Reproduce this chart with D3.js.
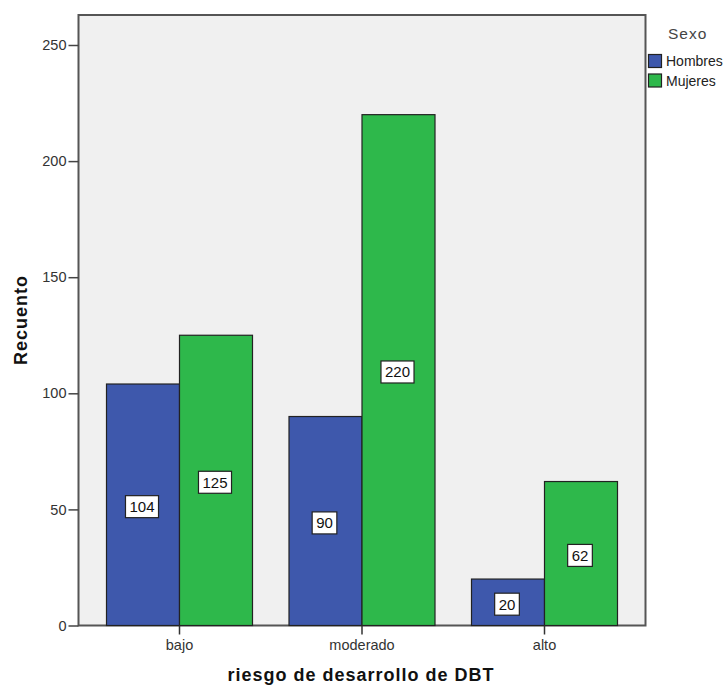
<!DOCTYPE html>
<html>
<head>
<meta charset="utf-8">
<script src="https://cdn.jsdelivr.net/npm/d3@7"></script>
<style>
body { margin: 0; background: #fff; }
text { font-family: "Liberation Sans", Arial, sans-serif; }
</style>
</head>
<body>
<svg id="chart" width="726" height="685"></svg>
<script>
const categories = ["bajo", "moderado", "alto"];
const seriesNames = ["Hombres", "Mujeres"];
const hombres = [104, 90, 20];
const mujeres = [125, 220, 62];
const yTicks = [0, 50, 100, 150, 200, 250];
const colors = ["#3e58ac", "#2eb84b"];

const svg = d3.select("#chart");
const plot = { left: 78.5, right: 645.5, top: 15, bottom: 625.5 };

const y = d3.scaleLinear().domain([0, 250]).range([plot.bottom, 45]);
const x = d3.scaleBand().domain(categories).range([plot.left + 9.75, plot.right - 9.75]).paddingInner(0).paddingOuter(0);
const xs = d3.scaleBand().domain(seriesNames).range([0, x.bandwidth()]).paddingInner(0).paddingOuter(0.25);

// background
svg.append("rect").attr("x", plot.left).attr("y", plot.top)
  .attr("width", plot.right - plot.left).attr("height", plot.bottom - plot.top)
  .attr("fill", "#f0f0f0").attr("stroke", "#555").attr("stroke-width", 2);

const data = [];
categories.forEach((c, i) => {
  data.push({ cat: c, s: "Hombres", v: hombres[i], col: colors[0] });
  data.push({ cat: c, s: "Mujeres", v: mujeres[i], col: colors[1] });
});

svg.append("g").selectAll("rect").data(data).enter().append("rect")
  .attr("x", d => x(d.cat) + xs(d.s))
  .attr("y", d => y(d.v))
  .attr("width", xs.bandwidth())
  .attr("height", d => y(0) - y(d.v))
  .attr("fill", d => d.col)
  .attr("stroke", "#222").attr("stroke-width", 1.2);

// value labels
const lbl = svg.append("g").selectAll("g").data(data).enter().append("g")
  .attr("transform", d => `translate(${x(d.cat) + xs(d.s) + xs.bandwidth() / 2 - 1},${(y(d.v) + y(0)) / 2 + 2})`);
lbl.append("text").attr("text-anchor", "middle").attr("dy", "0.36em")
  .attr("font-size", 15).attr("fill", "#111").text(d => d.v)
  .each(function () {
    const b = this.getBBox();
    d3.select(this.parentNode).insert("rect", "text")
      .attr("x", b.x - 4).attr("y", b.y - 2.5).attr("width", b.width + 8).attr("height", b.height + 5)
      .attr("fill", "#fff").attr("stroke", "#222").attr("stroke-width", 1.2);
  });

// y axis
const yAxis = svg.append("g").attr("transform", `translate(${plot.left},0)`)
  .call(d3.axisLeft(y).tickValues(yTicks).tickSize(10).tickPadding(2).tickSizeOuter(0));
yAxis.select(".domain").remove();
yAxis.selectAll("line").attr("stroke", "#444").attr("stroke-width", 1.5);
yAxis.selectAll("text").attr("font-size", 14.5).attr("fill", "#333").attr("font-family", "Liberation Sans, Arial, sans-serif");

// x axis
const xAxis = svg.append("g").attr("transform", `translate(0,${plot.bottom})`)
  .call(d3.axisBottom(x).tickSize(9).tickSizeOuter(0).tickPadding(5));
xAxis.select(".domain").remove();
xAxis.selectAll("line").attr("stroke", "#333").attr("stroke-width", 1.5);
xAxis.selectAll("text").attr("font-size", 14.5).attr("fill", "#333").attr("font-family", "Liberation Sans, Arial, sans-serif");

// axis titles
svg.append("text").attr("transform", "translate(27,320) rotate(-90)")
  .attr("text-anchor", "middle").attr("font-size", 18).attr("font-weight", "bold").attr("fill", "#111")
  .attr("letter-spacing", "1px")
  .text("Recuento");
svg.append("text").attr("x", 361).attr("y", 681)
  .attr("text-anchor", "middle").attr("font-size", 18).attr("font-weight", "bold").attr("fill", "#111")
  .attr("letter-spacing", "1px")
  .text("riesgo de desarrollo de DBT");

// legend
svg.append("text").attr("x", 668).attr("y", 39).attr("font-size", 15.5).attr("fill", "#444")
  .attr("letter-spacing", "1px").text("Sexo");
seriesNames.forEach((s, i) => {
  svg.append("rect").attr("x", 648.5).attr("y", 54.5 + i * 19.5).attr("width", 13).attr("height", 13)
    .attr("fill", colors[i]).attr("stroke", "#222").attr("stroke-width", 1.2);
  svg.append("text").attr("x", 666).attr("y", 66 + i * 19.5).attr("font-size", 14).attr("fill", "#222").text(s);
});
</script>
</body>
</html>
